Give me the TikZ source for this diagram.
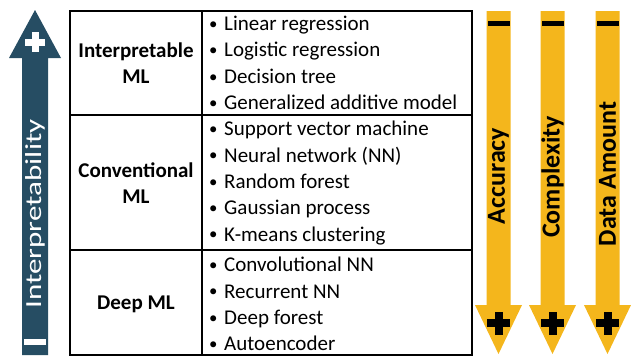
\documentclass[tikz,border=0pt]{standalone}
\usepackage{fontspec}
\setmainfont{Carlito}
\newfontfamily\widefont[FakeStretch=1.35]{Carlito}
\definecolor{ablue}{RGB}{38,77,99}
\definecolor{ayel}{RGB}{244,182,28}
\newcommand\itm{\makebox[16pt][l]{\hspace{1pt}\raisebox{1.2pt}{\scalebox{0.8}{\textbullet}}}}
\begin{document}
\begin{tikzpicture}[x=1pt,y=1pt,
  txt/.style={font=\fontsize{21}{26.3}\selectfont, inner sep=0pt},
  cat/.style={txt, font=\fontsize{21}{26.3}\selectfont\bfseries, align=center},
  items/.style={txt, anchor=west, align=left},
  ylab/.style={rotate=90, inner sep=0pt, font=\fontsize{26}{26}\selectfont\bfseries},
  grid/.style={line width=1.5pt, draw=black}]
\useasboundingbox (0,0) rectangle (631,-356);

% blue arrow
\fill[ablue] (22,-355) -- (22,-58) -- (9,-58) -- (35,-10) -- (61,-58) -- (48,-58) -- (48,-355) -- cycle;
\fill[white] (31.5,-32) rectangle (38.5,-52);
\fill[white] (25,-38.5) rectangle (45,-45.5);
\fill[white] (24,-339) rectangle (46,-345);
\node[rotate=90, text=white, inner sep=0pt, font=\widefont\fontsize{23}{23}\selectfont] (interp) at (35,-214) {Interpretability};

% yellow arrows
\foreach \c in {498.5, 552.5, 607.5}{
  \fill[ayel] (\c-12,-11) -- (\c+12,-11) -- (\c+12,-305) -- (\c+23.5,-305) -- (\c,-354) -- (\c-23.5,-305) -- (\c-12,-305) -- cycle;
  \fill[black] (\c-11,-21) rectangle (\c+11,-26);
  \fill[black] (\c-4,-311.5) rectangle (\c+4,-334.5);
  \fill[black] (\c-11.5,-319) rectangle (\c+11.5,-327);
}
\node[ylab] (acc) at (498.5,-176) {Accuracy};
\node[ylab] (comp) at (552.5,-177) {Complexity};
\node[ylab] (data) at (607.5,-174) {Data Amount};

% table
\draw[grid] (70,-11) rectangle (472,-355);
\draw[grid] (202,-11) -- (202,-355);
\draw[grid] (70,-115) -- (472,-115);
\draw[grid] (70,-250) -- (472,-250);

\node[cat] (c1) at (136,-63) {Interpretable\\ML};
\node[cat] (c2) at (136,-183) {Conventional\\ML};
\node[cat] (c3) at (136,-304) {Deep ML};

\node[items] (i1) at (208,-63) {\itm Linear regression\\\itm Logistic regression\\\itm Decision tree\\\itm Generalized additive model};
\node[items] (i2) at (208,-183) {\itm Support vector machine\\\itm Neural network (NN)\\\itm Random forest\\\itm Gaussian process\\\itm K-means clustering};
\node[items] (i3) at (208,-304) {\itm Convolutional NN\\\itm Recurrent NN\\\itm Deep forest\\\itm Autoencoder};
\end{tikzpicture}
\end{document}
